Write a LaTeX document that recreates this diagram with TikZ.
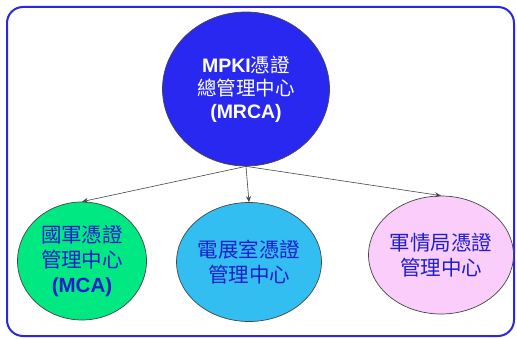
\documentclass[tikz,border=0pt]{standalone}
\usepackage{fontspec}
\setmainfont{Liberation Sans}
\newfontfamily\cjk{Noto Sans CJK TC}
\usetikzlibrary{shapes.geometric,arrows.meta}
\definecolor{framecol}{RGB}{40,40,225}
\definecolor{topfill}{RGB}{40,40,240}
\definecolor{greenfill}{RGB}{0,232,130}
\definecolor{cyanfill}{RGB}{50,190,240}
\definecolor{pinkfill}{RGB}{250,205,250}
\definecolor{txtblue}{RGB}{30,30,205}
\definecolor{edgegray}{RGB}{70,70,70}
\begin{document}
\begin{tikzpicture}[x=1pt,y=-1pt,
  bubble/.style={ellipse,draw=edgegray,line width=0.7pt,inner sep=0pt,align=center,
    font=\fontsize{20.5}{25}\selectfont},
  link/.style={draw=edgegray,line width=0.6pt,-{Stealth[length=6pt,width=5pt]}}]
\useasboundingbox (0,0) rectangle (517,339);
\fill[white] (0,0) rectangle (517,339);
\draw[framecol,line width=2pt,rounded corners=16pt] (7,7) rectangle (514,336);
\node[bubble,fill=topfill,text=white,minimum width=167pt,minimum height=154pt,
  font=\fontsize{19.5}{23}\selectfont] (top) at (246,89)
  {{\bfseries MPKI}{\cjk 憑證}\\{\cjk 總管理中心}\\{\bfseries (MRCA)}};
\node[bubble,fill=greenfill,text=txtblue,minimum width=129pt,minimum height=118pt] (l) at (82,261)
  {{\cjk 國軍憑證}\\{\cjk 管理中心}\\{\bfseries (MCA)}};
\node[bubble,fill=cyanfill,text=txtblue,minimum width=128pt,minimum height=119pt] (m) at (249,262)
  {{\cjk 電展室憑證}\\{\cjk 管理中心}};
\node[bubble,fill=pinkfill,text=txtblue,minimum width=128pt,minimum height=118pt] (r) at (441,255)
  {{\cjk 軍情局憑證}\\{\cjk 管理中心}};
\draw[link] (top.south) -- (l.north);
\draw[link] (top.south) -- (m.north);
\draw[link] (top.south) -- (r.north);
\end{tikzpicture}
\end{document}
